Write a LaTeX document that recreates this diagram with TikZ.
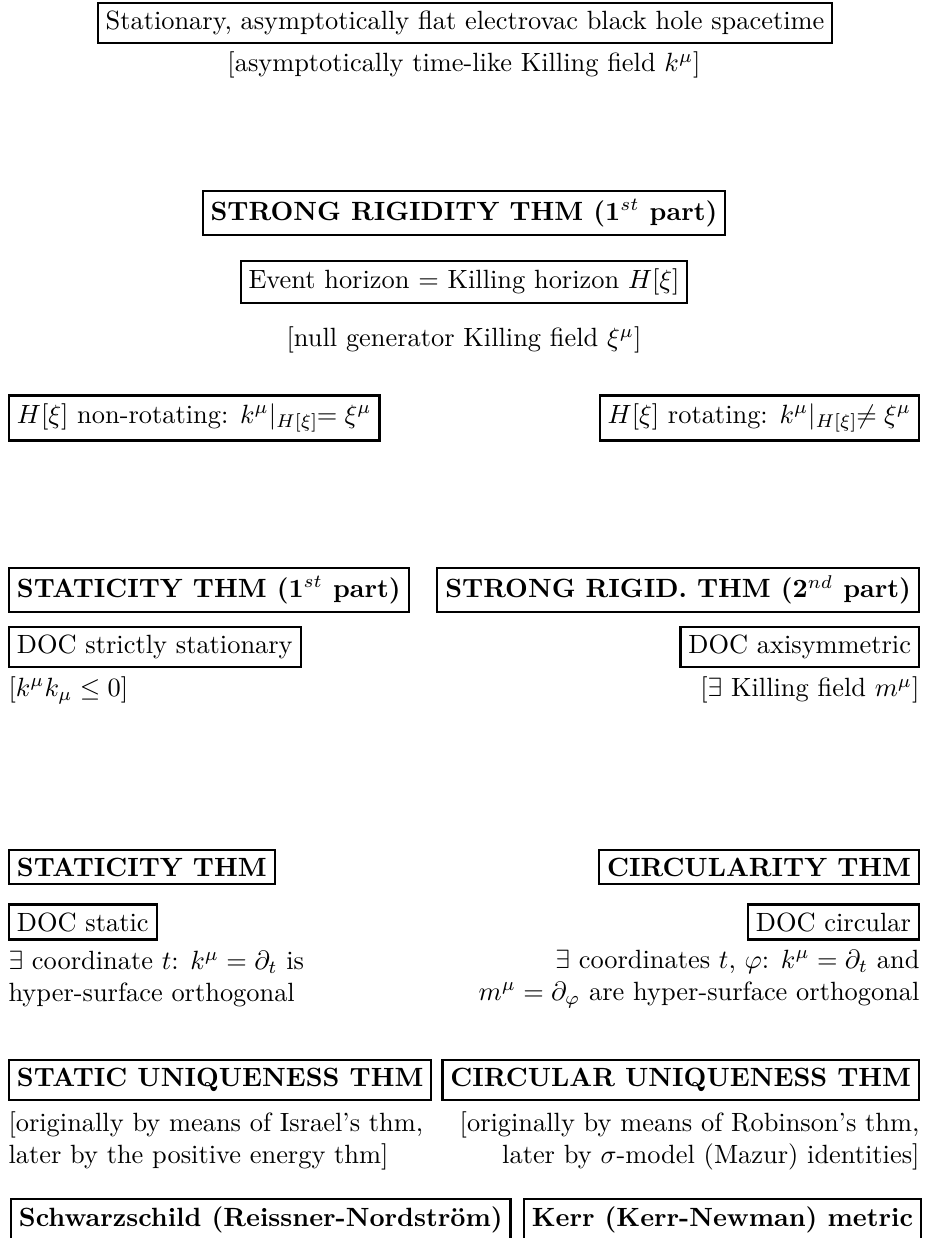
\documentclass[tikz,border=0pt]{standalone}
\begin{document}
\begin{tikzpicture}[x=0.379pt,y=-0.379pt,
  bx/.style={draw,line width=0.8pt,inner sep=3pt,font=\normalsize},
  bbx/.style={bx,font=\bfseries},
  txt/.style={inner sep=0pt,font=\normalsize},
  txtl/.style={txt,align=left,anchor=west},
  txtr/.style={txt,align=right,anchor=east}]
\useasboundingbox (0,0) rectangle (927,1238);
\clip (0,0) rectangle (927,1238);
% top
\node[bx] (top) at (465,23) {Stationary, asymptotically flat electrovac black hole spacetime};
\node[txt] (topt) at (464,65) {[asymptotically time-like Killing field $k^{\mu}$]};
% strong rigidity
\node[bbx] (sr1) at (464,213) {STRONG RIGIDITY THM (1$^{st}$ part)};
\node[bx] (eh) at (464,282) {Event horizon = Killing horizon $H[\xi]$};
\node[txt] (eht) at (464,340) {[null generator Killing field $\xi^{\mu}$]};
\node[bx,anchor=west] (nrot) at (8,418) {$H[\xi]$ non-rotating: $k^{\mu}|_{H[\xi]}\!\!=\xi^{\mu}$};
\node[bx,anchor=east] (rot) at (920,418) {$H[\xi]$ rotating: $k^{\mu}|_{H[\xi]}\!\!\neq\xi^{\mu}$};
% second level
\node[bbx,anchor=west] (st1) at (8,590) {STATICITY THM (1$^{st}$ part)};
\node[bbx,anchor=east] (sr2) at (920,590) {STRONG RIGID. THM (2$^{nd}$ part)};
\node[bx,anchor=west] (dss) at (8,647) {DOC strictly stationary};
\node[bx,anchor=east] (dax) at (920,647) {DOC axisymmetric};
\node[txtl] (dsst) at (8,690) {[$k^{\mu}k_{\mu}\leq 0$]};
\node[txtr] (daxt) at (920,690) {[$\exists$ Killing field $m^{\mu}$]};
% third level
\node[bbx,anchor=west] (st) at (8,867) {STATICITY THM};
\node[bbx,anchor=east] (ci) at (920,867) {CIRCULARITY THM};
\node[bx,anchor=west] (dst) at (8,922) {DOC static};
\node[bx,anchor=east] (dci) at (920,922) {DOC circular};
\node[txtl] (dstt) at (8,979) {$\exists$ coordinate $t$: $k^{\mu}=\partial_t$ is\\hyper-surface orthogonal};
\node[txtr] (dcit) at (920,979) {$\exists$ coordinates $t$, $\varphi$: $k^{\mu}=\partial_t$ and\\$m^{\mu}=\partial_{\varphi}$ are hyper-surface orthogonal};
% uniqueness
\node[bbx,anchor=west] (su) at (8,1080) {STATIC UNIQUENESS THM};
\node[bbx,anchor=east] (cu) at (920,1080) {CIRCULAR UNIQUENESS THM};
\node[txtl] (sut) at (8,1141) {[originally by means of Israel's thm,\\later by the positive energy thm]};
\node[txtr] (cut) at (920,1141) {[originally by means of Robinson's thm,\\later by $\sigma$-model (Mazur) identities]};
% results
\node[bbx,anchor=north west] (schw) at (10,1198) {Schwarzschild (Reissner-Nordstr\"om)};
\node[bbx,anchor=north east] (kerr) at (922,1198) {Kerr (Kerr-Newman) metric};
\end{tikzpicture}
\end{document}
